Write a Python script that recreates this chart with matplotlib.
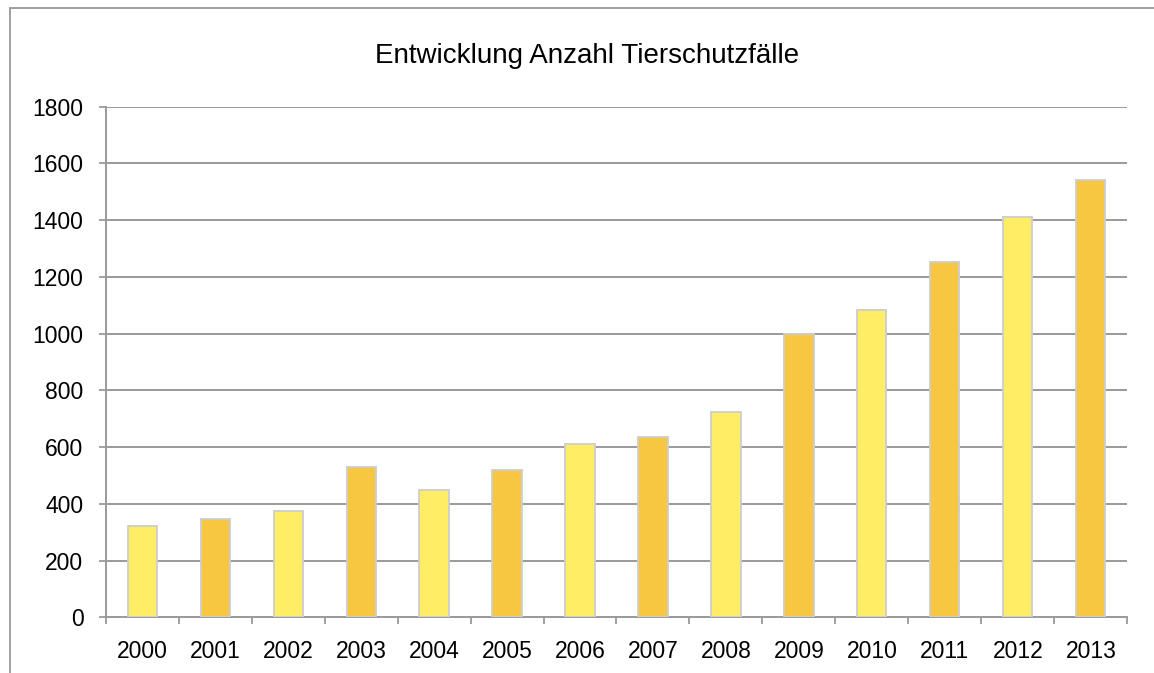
import matplotlib
matplotlib.use("Agg")
import matplotlib.pyplot as plt
from matplotlib.lines import Line2D
import numpy as np

years = ["2000", "2001", "2002", "2003", "2004", "2005", "2006",
         "2007", "2008", "2009", "2010", "2011", "2012", "2013"]
cases = [323, 345, 373, 530, 450, 518, 610, 637, 722, 1000, 1085, 1252, 1410, 1540]
bar_colors = ["#FFED66", "#F8C741"] * 7
title = "Entwicklung Anzahl Tierschutzfälle"
yticks = [0, 200, 400, 600, 800, 1000, 1200, 1400, 1600, 1800]

W, H = 1154, 673
fig = plt.figure(figsize=(W / 100, H / 100), dpi=100)
fig.patch.set_facecolor("white")

ax = fig.add_axes([105.7 / W, 1 - 617.3 / H, (1127.3 - 105.7) / W, (617.3 - 106.7) / H])
x = np.arange(len(years))
ax.bar(x, cases, width=0.4, color=bar_colors, edgecolor="#CDCDCD", linewidth=1.3, zorder=3)

ax.set_xlim(-0.5, len(years) - 0.5)
ax.set_ylim(0, 1800)
ax.set_yticks(yticks)
ax.set_yticklabels([str(v) for v in yticks])
ax.yaxis.grid(True, color="#9A9A9A", linewidth=1.4)
ax.set_axisbelow(True)

ax.set_xticks(np.arange(-0.5, len(years)))
ax.set_xticklabels([])
ax.set_xticks(x, minor=True)
ax.set_xticklabels(years, minor=True)
ax.tick_params(axis="x", which="major", length=5, width=1.3, color="#9A9A9A")
ax.tick_params(axis="x", which="minor", length=0, pad=16.5, labelsize=16.5)
ax.tick_params(axis="y", length=5, width=1.3, color="#9A9A9A", pad=11, labelsize=16.5)

for s in ["top", "right"]:
    ax.spines[s].set_visible(False)
for s in ["left", "bottom"]:
    ax.spines[s].set_color("#9A9A9A")
    ax.spines[s].set_linewidth(1.4)

for lab in ax.get_xticklabels(minor=True) + ax.get_yticklabels():
    lab.set_family(["Liberation Sans", "DejaVu Sans"])

fig.text(587.5 / W, 1 - 63 / H, title, ha="center", va="baseline", fontsize=20,
         family=["Liberation Sans", "DejaVu Sans"])

bx, by = 9.7 / W, 1 - 7.5 / H
fig.add_artist(Line2D([bx, bx], [0, by], transform=fig.transFigure, color="#A0A0A0", linewidth=1.4))
fig.add_artist(Line2D([bx, 1], [by, by], transform=fig.transFigure, color="#A0A0A0", linewidth=1.4))

fig.savefig("out.png", dpi=100)
